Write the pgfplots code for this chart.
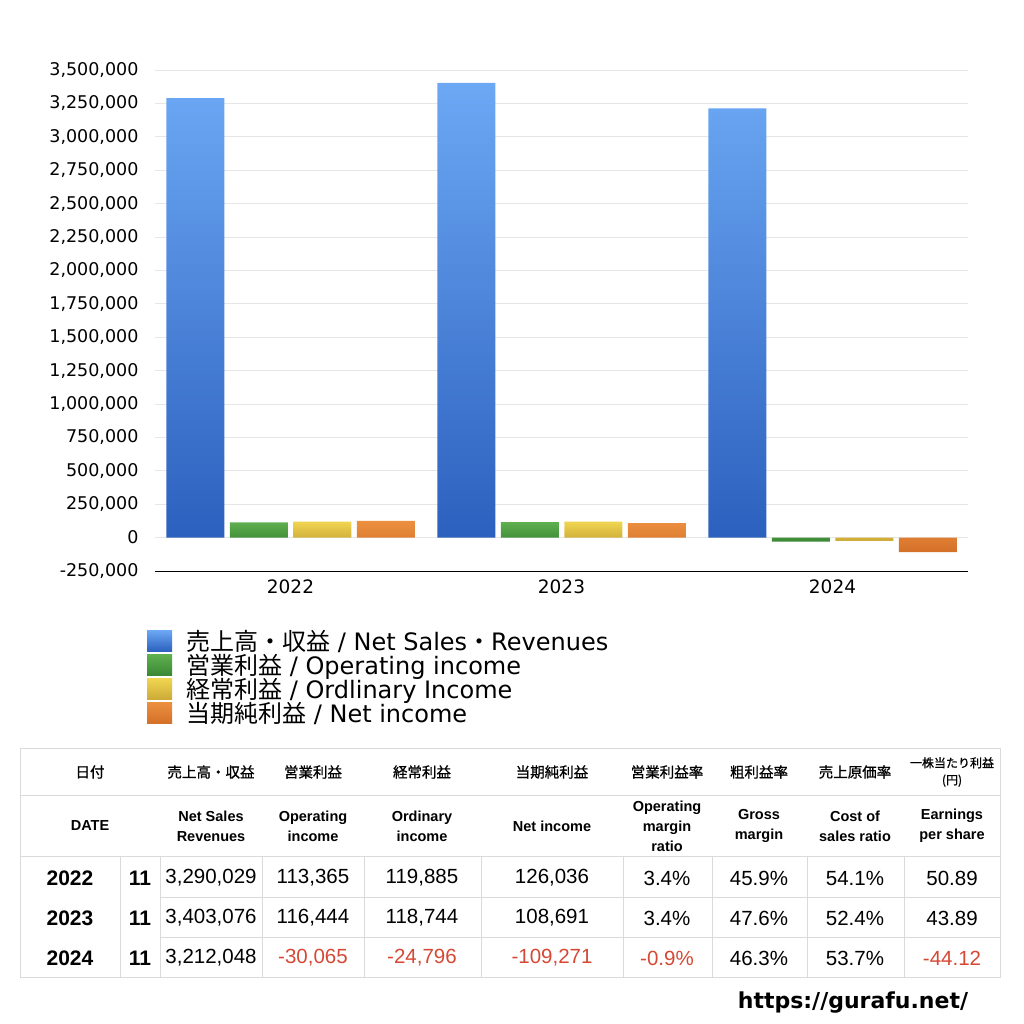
\documentclass[border=0pt]{standalone}
\usepackage{fontspec}
\setmainfont{Liberation Sans}
\newfontfamily\dv{DejaVu Sans}
\newfontfamily\cjk{Noto Sans CJK JP}
\newfontfamily\cjkm[FakeBold=1]{Noto Sans CJK JP}
\usepackage{pgfplots}
\pgfplotsset{compat=1.18}

\definecolor{blueT}{RGB}{108,168,244}
\definecolor{blueB}{RGB}{44,96,190}
\definecolor{greenT}{RGB}{96,176,80}
\definecolor{greenB}{RGB}{58,136,52}
\definecolor{yellowT}{RGB}{240,214,80}
\definecolor{yellowB}{RGB}{204,170,56}
\definecolor{orangeT}{RGB}{236,144,64}
\definecolor{orangeB}{RGB}{212,112,40}
\definecolor{gridc}{RGB}{230,230,230}
\definecolor{linec}{RGB}{218,218,218}
\definecolor{negred}{RGB}{214,72,52}

\pgfplotsset{
  sq/.style={legend image code/.code={\fill[##1] (0pt,-7pt) rectangle (25pt,14pt);}},
}

\begin{document}
\begin{tikzpicture}[x=1pt,y=1pt]
\path[use as bounding box] (0,0) rectangle (1024,1024);
\begin{axis}[
    at={(155pt,453pt)}, anchor=south west,
    scale only axis, width=813pt, height=501pt,
    ybar=5.5pt, bar width=58pt,
    xmin=-0.5, xmax=2.5,
    ymin=-250000, ymax=3500000,
    xtick={0,1,2}, xticklabels={2022,2023,2024},
    ytick={-250000,0,250000,500000,750000,1000000,1250000,1500000,1750000,2000000,2250000,2500000,2750000,3000000,3250000,3500000},
    scaled y ticks=false,
    yticklabel style={font=\dv\fontsize{17.5}{20}\selectfont, xshift=-13pt,
      /pgf/number format/fixed, /pgf/number format/1000 sep={,}, /pgf/number format/assume math mode=true},
    xticklabel style={font=\dv\fontsize{18.5}{22}\selectfont, yshift=-5pt},
    axis x line=bottom, axis y line=left,
    x axis line style={-, black, line width=0.8pt},
    y axis line style={draw=none},
    major tick length=0pt,
    ymajorgrids, grid style={gridc, line width=0.8pt},
    legend cell align=left,
    legend style={at={(-0.0098,-0.118)}, anchor=north west, draw=none, inner sep=0pt,
      column sep=14pt, row sep=-2pt,
      font=\dv\fontsize{24}{24}\selectfont,
      nodes={inner sep=0pt, text height=18pt, text depth=6pt}},
]
\addplot[ybar, draw=none, top color=blueT, bottom color=blueB, sq] coordinates {(0,3290029) (1,3403076) (2,3212048)};
\addplot[ybar, draw=none, top color=greenT, bottom color=greenB, sq] coordinates {(0,113365) (1,116444) (2,-30065)};
\addplot[ybar, draw=none, top color=yellowT, bottom color=yellowB, sq] coordinates {(0,119885) (1,118744) (2,-24796)};
\addplot[ybar, draw=none, top color=orangeT, bottom color=orangeB, sq] coordinates {(0,126036) (1,108691) (2,-109271)};
\legend{{\cjk 売上高・収益} / Net Sales{\cjk ・}Revenues, {\cjk 営業利益} / Operating income, {\cjk 経常利益} / Ordlinary Income, {\cjk 当期純利益} / Net income}
\end{axis}

% table
\begin{scope}[linec, line width=0.8pt]
\draw (20,47) rectangle (1000,276);
\draw (20,229) -- (1000,229);
\draw (20,168) -- (1000,168);
\draw (160,127) -- (1000,127);
\draw (160,87) -- (1000,87);
\foreach \x in {120,160,262,364,481,623,712,807,904} \draw (\x,47) -- (\x,168);
\end{scope}

\begin{scope}[font=\fontsize{14.5}{20}\selectfont\cjkm, align=center]
\node at (90,252) {日付};
\node at (211,252) {売上高・収益};
\node at (313,252) {営業利益};
\node at (422,252) {経常利益};
\node at (552,252) {当期純利益};
\node at (667,252) {営業利益率};
\node at (759,252) {粗利益率};
\node at (855,252) {売上原価率};
\node[font=\fontsize{12}{17}\selectfont\cjkm] at (952,252) {一株当たり利益\\(円)};
\end{scope}
\begin{scope}[font=\fontsize{14.5}{20}\selectfont\bfseries, align=center]
\node at (90,198) {DATE};
\node at (211,198) {Net Sales\\Revenues};
\node at (313,198) {Operating\\income};
\node at (422,198) {Ordinary\\income};
\node at (552,198) {Net income};
\node at (667,198) {Operating\\margin\\ratio};
\node at (759,198) {Gross\\margin};
\node at (855,198) {Cost of\\sales ratio};
\node at (952,198) {Earnings\\per share};
\end{scope}

\begin{scope}[font=\fontsize{20.5}{24}\selectfont]
\foreach \y/\yr in {146/2022,106/2023,66/2024} {
  \node[font=\fontsize{21}{24}\selectfont\bfseries] at (70,\y) {\yr};
  \node[font=\fontsize{21}{24}\selectfont\bfseries] at (140,\y) {11};
}
\node at (211,146) {3,290,029};
\node at (313,146) {113,365};
\node at (422,146) {119,885};
\node at (552,146) {126,036};
\node at (667,146) {3.4\%};
\node at (759,146) {45.9\%};
\node at (855,146) {54.1\%};
\node at (952,146) {50.89};
\node at (211,106) {3,403,076};
\node at (313,106) {116,444};
\node at (422,106) {118,744};
\node at (552,106) {108,691};
\node at (667,106) {3.4\%};
\node at (759,106) {47.6\%};
\node at (855,106) {52.4\%};
\node at (952,106) {43.89};
\node at (211,66) {3,212,048};
\node[negred] at (313,66) {-30,065};
\node[negred] at (422,66) {-24,796};
\node[negred] at (552,66) {-109,271};
\node[negred] at (667,66) {-0.9\%};
\node at (759,66) {46.3\%};
\node at (855,66) {53.7\%};
\node[negred] at (952,66) {-44.12};
\end{scope}

\node[font=\dv\bfseries\fontsize{22}{26}\selectfont] at (853,21) {https://gurafu.net/};
\end{tikzpicture}
\end{document}
